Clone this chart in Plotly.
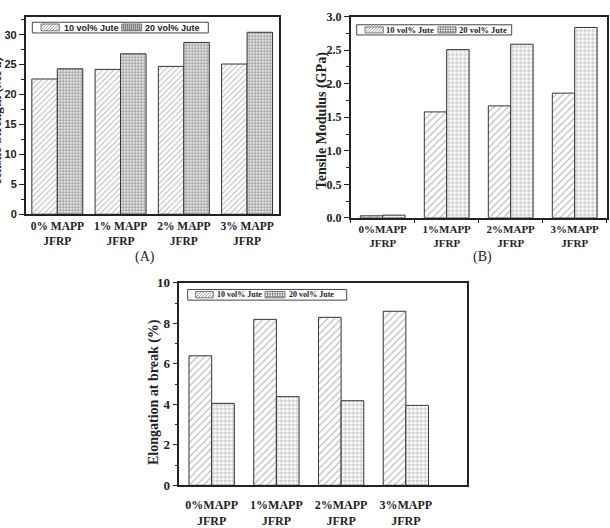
import plotly.graph_objects as go

# ---------------- data ----------------
cats_a = ["0% MAPP<br>JFRP", "1% MAPP<br>JFRP", "2% MAPP<br>JFRP", "3% MAPP<br>JFRP"]
cats_bc = ["0%MAPP<br>JFRP", "1%MAPP<br>JFRP", "2%MAPP<br>JFRP", "3%MAPP<br>JFRP"]
series_names = ["10 vol% Jute", "20 vol% Jute"]

strength_10 = [22.6, 24.2, 24.7, 25.1]
strength_20 = [24.3, 26.8, 28.7, 30.4]

modulus_10 = [0.03, 1.58, 1.67, 1.86]
modulus_20 = [0.04, 2.51, 2.59, 2.84]

elong_10 = [6.4, 8.2, 8.3, 8.6]
elong_20 = [4.05, 4.38, 4.18, 3.95]

# ---------------- styling ----------------
SERIF = "Liberation Serif"
SANS = "Liberation Sans"
W, H = 610, 528


def px_x(p):
    return p / W


def px_y(p):
    return 1 - p / H


hatch_a = dict(shape="/", size=4, solidity=0.25, fgcolor="#707070", bgcolor="white")
hatch_bc = dict(shape="/", size=5, solidity=0.22, fgcolor="#707070", bgcolor="white")
grid_a = dict(shape="+", size=3, solidity=0.5, fgcolor="#5a5a5a", bgcolor="#e8e8e8")
grid_bc = dict(shape="+", size=4, solidity=0.3, fgcolor="#5a5a5a", bgcolor="white")

fig = go.Figure()


def add_pair(cats, v10, v20, xa, ya, w, hpat, gpat):
    fig.add_trace(go.Bar(
        x=cats, y=v10, name=series_names[0], xaxis=xa, yaxis=ya, showlegend=False,
        width=w, offset=-w, marker=dict(color="white", pattern=hpat,
                                        line=dict(color="#333333", width=1))))
    fig.add_trace(go.Bar(
        x=cats, y=v20, name=series_names[1], xaxis=xa, yaxis=ya, showlegend=False,
        width=w, offset=0, marker=dict(color="white", pattern=gpat,
                                       line=dict(color="#333333", width=1))))


add_pair(cats_a, strength_10, strength_20, "x", "y", 0.403, hatch_a, grid_a)
add_pair(cats_bc, modulus_10, modulus_20, "x2", "y2", 0.35, hatch_bc, grid_bc)
add_pair(cats_bc, elong_10, elong_20, "x3", "y3", 0.35, hatch_bc, grid_bc)

axis_common = dict(showline=True, linecolor="#222222", linewidth=1.5, mirror=True,
                   showgrid=False, zeroline=False)

fig.update_layout(
    width=W, height=H, margin=dict(l=0, r=0, t=0, b=0),
    paper_bgcolor="white", plot_bgcolor="white",
    barmode="overlay", showlegend=False,
    xaxis=dict(domain=[px_x(25.7), px_x(278.7)], anchor="y", range=[-0.5, 3.5],
               ticks="", tickfont=dict(family=SERIF, size=11.5, color="#222", weight="bold"),
               **axis_common),
    yaxis=dict(domain=[px_y(213.3), px_y(10)], anchor="x", range=[0, 33], dtick=5,
               ticks="outside", ticklen=5, tickcolor="#222",
               minor=dict(dtick=2.5, ticks="outside", ticklen=3, tickcolor="#222"),
               tickfont=dict(family=SANS, size=11, color="#222", weight="bold"),
               **axis_common),
    xaxis2=dict(domain=[px_x(350.7), px_x(606.7)], anchor="y2", range=[-0.5, 3.5],
                ticks="outside", tickson="boundaries", ticklen=3, tickcolor="#222",
                tickfont=dict(family=SERIF, size=11, color="#222", weight="bold"),
                **axis_common),
    yaxis2=dict(domain=[px_y(217), px_y(10)], anchor="x2", range=[0, 3.0], dtick=0.5,
                tickformat=".1f", ticks="outside", ticklen=5, tickcolor="#222",
                minor=dict(dtick=0.25, ticks="outside", ticklen=3, tickcolor="#222"),
                tickfont=dict(family=SERIF, size=12, color="#222", weight="bold"),
                **axis_common),
    xaxis3=dict(domain=[px_x(179.3), px_x(466.7)], anchor="y3", range=[-0.5, 3.94],
                ticks="", ticklabelstandoff=8,
                tickfont=dict(family=SERIF, size=12, color="#222", weight="bold"),
                **axis_common),
    yaxis3=dict(domain=[px_y(492.3), px_y(284)], anchor="x3", range=[0, 10], dtick=2,
                ticks="outside", ticklen=5, tickcolor="#222",
                minor=dict(dtick=1, ticks="outside", ticklen=3, tickcolor="#222"),
                tickfont=dict(family=SERIF, size=13, color="#222", weight="bold"),
                **axis_common),
)

shapes = []
annotations = []


def seg(xa, ya, xb, yb):
    return f"M{px_x(xa):.5f},{px_y(ya):.5f}L{px_x(xb):.5f},{px_y(yb):.5f}"


def hatch_path(x0, y0, x1, y1, step):
    parts = []
    c = x0 + y0 + step
    while c < x1 + y1:
        xa = max(x0, c - y1)
        xb = min(x1, c - y0)
        parts.append(seg(xa, c - xa, xb, c - xb))
        c += step
    return "".join(parts)


def grid_path(x0, y0, x1, y1, step):
    parts = []
    x = x0 + step
    while x < x1:
        parts.append(seg(x, y0, x, y1))
        x += step
    y = y0 + step
    while y < y1:
        parts.append(seg(x0, y, x1, y))
        y += step
    return "".join(parts)


def rect(x0, y0, x1, y1, width=1, color="#444", fill=None):
    shapes.append(dict(type="rect", xref="paper", yref="paper",
                       x0=px_x(x0), x1=px_x(x1), y0=px_y(y1), y1=px_y(y0),
                       line=dict(color=color, width=width),
                       fillcolor=fill if fill else "rgba(0,0,0,0)"))


def path(d, color, width=0.7):
    shapes.append(dict(type="path", xref="paper", yref="paper", path=d,
                       line=dict(color=color, width=width)))


def make_legend(box, sw1, sw2, t1x, t2x, font, gstep, gcolor, hstep):
    rect(*box, width=1, color="#444", fill="white")
    rect(*sw1, width=0.8, color="#555", fill="white")
    path(hatch_path(*sw1, hstep), "#777")
    rect(*sw2, width=0.8, color="#555", fill="white")
    path(grid_path(*sw2, gstep), gcolor)
    yc = (box[1] + box[3]) / 2
    for tx, name in zip([t1x, t2x], series_names):
        annotations.append(dict(text=name, x=px_x(tx), y=px_y(yc), xanchor="left",
                                yanchor="middle", font=font))


make_legend((32.3, 15.7, 208.3, 26.7), (41, 17.5, 59.3, 24.5), (121.7, 17.5, 141.7, 24.5),
            61.5, 143, dict(family=SANS, size=9, color="#222", weight="bold"),
            2, "#555", 3)
make_legend((356.7, 18.3, 511.7, 28.8), (365, 20.5, 383.3, 26.7), (438, 20.5, 456, 26.7),
            384, 457, dict(family=SERIF, size=8.5, color="#222", weight="bold"),
            2.5, "#666", 3)
make_legend((187.7, 290.7, 346.7, 301.7), (195.7, 292.8, 213.3, 299.3), (265, 292.8, 285, 299.3),
            214.5, 286.5, dict(family=SERIF, size=8, color="#222", weight="bold"),
            2.5, "#666", 3)

text_annos = [
    dict(text="Tensile Strength (MPa)", x=px_x(-3), y=px_y(118), textangle=-90,
         font=dict(family=SERIF, size=13, color="#222", weight="bold")),
    dict(text="Tensile Modulus (GPa)", x=px_x(321.7), y=px_y(117), textangle=-90,
         font=dict(family=SERIF, size=14, color="#222", weight="bold")),
    dict(text="Elongation at break (%)", x=px_x(153.3), y=px_y(396), textangle=-90,
         font=dict(family=SERIF, size=14, color="#222", weight="bold")),
    dict(text="(A)", x=px_x(145), y=px_y(257),
         font=dict(family=SERIF, size=14, color="#222")),
    dict(text="(B)", x=px_x(482.7), y=px_y(257),
         font=dict(family=SERIF, size=14, color="#222")),
    dict(text="(C)", x=px_x(294), y=px_y(528), yanchor="top", yshift=-6,
         font=dict(family=SERIF, size=14, color="#222")),
]
for a in text_annos:
    a.setdefault("yanchor", "middle")
    a["xanchor"] = "center"
annotations.extend(text_annos)
for a in annotations:
    a.update(xref="paper", yref="paper", showarrow=False)

fig.update_layout(shapes=shapes, annotations=annotations)

fig.write_html("out.html")
